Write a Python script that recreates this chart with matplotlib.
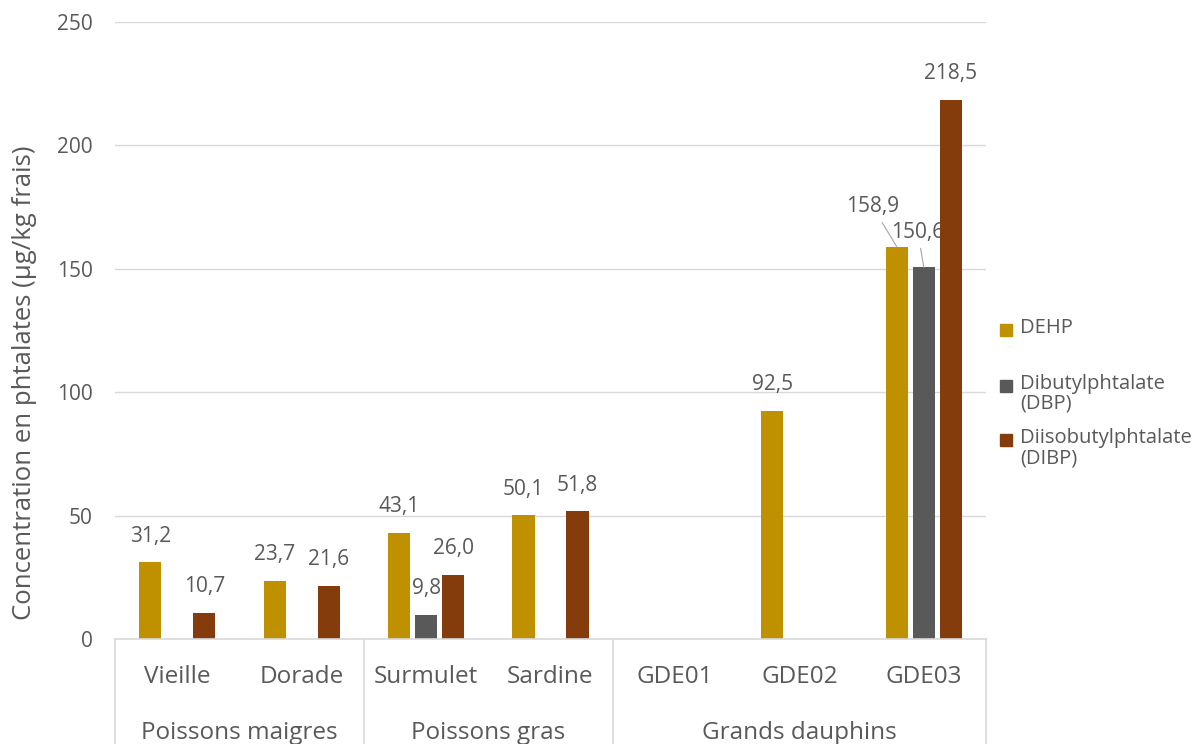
import numpy as np
import matplotlib
matplotlib.use("Agg")
import matplotlib.pyplot as plt
from matplotlib.patches import Rectangle
import matplotlib.transforms as mtransforms

plt.rcParams['font.family'] = ['Open Sans', 'DejaVu Sans']

categories = ["Vieille", "Dorade", "Surmulet", "Sardine", "GDE01", "GDE02", "GDE03"]
groups = ["Poissons maigres", "Poissons gras", "Grands dauphins"]
group_sizes = [2, 2, 3]
series_names = ["DEHP", "Dibutylphtalate\n(DBP)", "Diisobutylphtalate\n(DIBP)"]
dehp = [31.2, 23.7, 43.1, 50.1, np.nan, 92.5, 158.9]
dbp = [np.nan, np.nan, 9.8, np.nan, np.nan, np.nan, 150.6]
dibp = [10.7, 21.6, 26.0, 51.8, np.nan, np.nan, 218.5]
colors = ["#BF9000", "#595959", "#843C0C"]
yticks = [0, 50, 100, 150, 200, 250]
ylabel = "Concentration en phtalates (µg/kg frais)"

W, H = 1199, 744
fig = plt.figure(figsize=(W / 100, H / 100), dpi=100)
ax = fig.add_axes([115 / W, 1 - 639 / H, (986 - 115) / W, (639 - 22) / H])

TXT = "#595959"
GRID = "#D9D9D9"
x = np.arange(len(categories))
width = 0.177
step = 0.217
series = [dehp, dbp, dibp]

# special label offsets (points) for crowded labels
special = {(0, 6): (-17.3, 28.8), (1, 6): (-4.3, 25.2)}

for i, (vals, col) in enumerate(zip(series, colors)):
    xs = x + (i - 1) * step
    ax.bar(xs, vals, width=width, color=col, zorder=3)
    for j, v in enumerate(vals):
        if np.isnan(v):
            continue
        lab = f"{v:.1f}".replace(".", ",")
        if (i, j) in special:
            dx, dy = special[(i, j)]
            ax.annotate(lab, xy=(xs[j], v), xytext=(dx, dy), textcoords="offset points",
                        ha="center", va="center", fontsize=15, color=TXT,
                        arrowprops=dict(arrowstyle="-", color="#A6A6A6", lw=0.8,
                                        shrinkA=2, shrinkB=0))
        else:
            ax.annotate(lab, xy=(xs[j], v), xytext=(0, 18.7), textcoords="offset points",
                        ha="center", va="center", fontsize=15, color=TXT)

ax.set_xlim(-0.5, len(categories) - 0.5)
ax.set_ylim(0, 250)
ax.set_yticks(yticks)
ax.set_yticklabels([str(t) for t in yticks])
ax.tick_params(axis="y", length=0, pad=16, labelsize=15, labelcolor=TXT)
ax.set_xticks([])
ax.yaxis.grid(True, color=GRID, lw=1, zorder=0)
for s in ["top", "right", "left"]:
    ax.spines[s].set_visible(False)
ax.spines["bottom"].set_color(GRID)
ax.spines["bottom"].set_linewidth(1.2)
ax.spines["bottom"].set_zorder(4)

trans = mtransforms.blended_transform_factory(ax.transData, ax.transAxes)
axh = 639 - 22
# category labels
for j, c in enumerate(categories):
    ax.text(j, -(677 - 639) / axh, c, transform=trans, ha="center", va="center",
            fontsize=17.5, color=TXT, clip_on=False)
# group separators and labels
bounds = [-0.5]
for n in group_sizes:
    bounds.append(bounds[-1] + n)
for b in bounds:
    ax.plot([b, b], [0, -(744 - 639) / axh], transform=trans, color=GRID, lw=1.2,
            clip_on=False)
for g, lo, hi in zip(groups, bounds[:-1], bounds[1:]):
    ax.text((lo + hi) / 2, -(733 - 639) / axh, g, transform=trans, ha="center",
            va="center", fontsize=17.5, color=TXT, clip_on=False)

fig.text(25 / W, 1 - 383 / H, ylabel, rotation=90, ha="center", va="center",
         fontsize=18.5, color=TXT)

# legend
leg_y = [330, 386, 440]
for name, col, yy in zip(series_names, colors, leg_y):
    fig.add_artist(Rectangle((1000 / W, 1 - (yy + 6) / H), 12 / W, 12 / H,
                             transform=fig.transFigure, color=col))
    fig.text(1020 / W, 1 - (yy - 12) / H, name, ha="left", va="top", fontsize=14.5,
             color=TXT, linespacing=1.0)

fig.savefig("out.png", dpi=100)
